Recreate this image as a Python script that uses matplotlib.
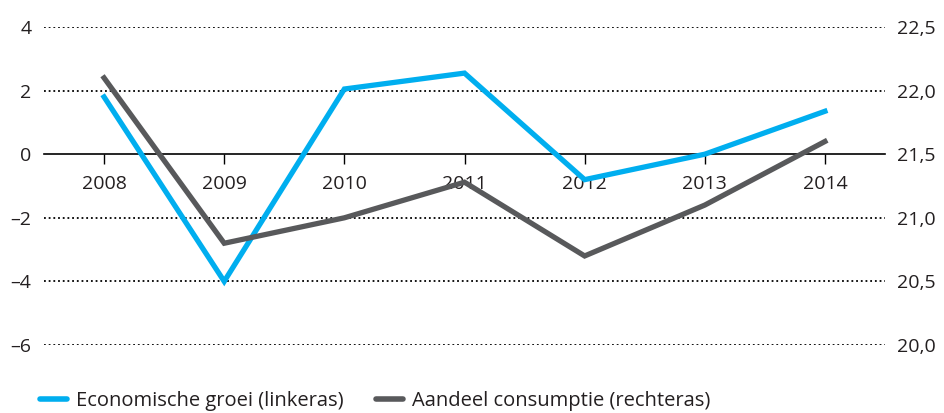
import matplotlib
matplotlib.use("Agg")
from matplotlib import pyplot as plt

years = [2008, 2009, 2010, 2011, 2012, 2013, 2014]
groei = [1.8, -4.0, 2.05, 2.55, -0.8, 0.0, 1.35]
consumptie = [22.1, 20.8, 21.0, 21.28, 20.7, 21.1, 21.6]

left_ticks = [-6, -4, -2, 0, 2, 4]
left_labels = ["\u20136", "\u20134", "\u20132", "0", "2", "4"]
right_ticks = [20.0, 20.5, 21.0, 21.5, 22.0, 22.5]
right_labels = ["20,0", "20,5", "21,0", "21,5", "22,0", "22,5"]

blue = "#00aeef"
grey = "#58595b"
txt = "#231f20"

plt.rcParams["font.family"] = ["Open Sans", "DejaVu Sans"]

fig = plt.figure(figsize=(9.44, 4.13), dpi=100)
ax = fig.add_axes([44 / 944, 1 - 345 / 413, (885 - 44) / 944, (345 - 27) / 413])

ax.set_xlim(2007.5, 2014.5)
ax.set_ylim(-6, 4)

for y in left_ticks:
    if y != 0:
        ax.axhline(y, color="black", lw=1.3, linestyle=(0, (1.0, 1.6)), zorder=1)

ax.spines["bottom"].set_position(("data", 0))
for s in ["top", "left", "right"]:
    ax.spines[s].set_visible(False)
ax.spines["bottom"].set_color("black")
ax.spines["bottom"].set_linewidth(1.2)

ax.set_xticks(years)
ax.set_xticklabels([str(y) for y in years])
ax.tick_params(axis="x", direction="out", length=7, width=1, color="black",
               labelsize=14, labelcolor=txt, pad=8)
ax.set_yticks(left_ticks)
ax.set_yticklabels(left_labels)
ax.tick_params(axis="y", length=0, labelsize=14, labelcolor=txt, pad=9)

ax.plot(years, groei, color=blue, lw=3.8, solid_joinstyle="miter", zorder=3,
        label="Economische groei (linkeras)")

ax2 = ax.twinx()
ax2.set_ylim(20.0, 22.5)
for s in ["top", "left", "right", "bottom"]:
    ax2.spines[s].set_visible(False)
ax2.set_yticks(right_ticks)
ax2.set_yticklabels(right_labels)
ax2.tick_params(axis="y", length=0, labelsize=14, labelcolor=txt, pad=9)
ax2.plot(years, consumptie, color=grey, lw=3.8, solid_joinstyle="miter", zorder=3,
         label="Aandeel consumptie (rechteras)")

h1, l1 = ax.get_legend_handles_labels()
h2, l2 = ax2.get_legend_handles_labels()
leg = fig.legend(h1 + h2, l1 + l2, loc="center left", bbox_to_anchor=(40 / 944, 1 - 401 / 413),
                 ncol=2, frameon=False, fontsize=14.5, handlelength=1.35,
                 handletextpad=0.45, columnspacing=1.6, labelcolor=txt,
                 borderpad=0, borderaxespad=0)
for line in leg.get_lines():
    line.set_solid_capstyle("round")
    line.set_linewidth(4)

fig.savefig("out.png", dpi=100)
